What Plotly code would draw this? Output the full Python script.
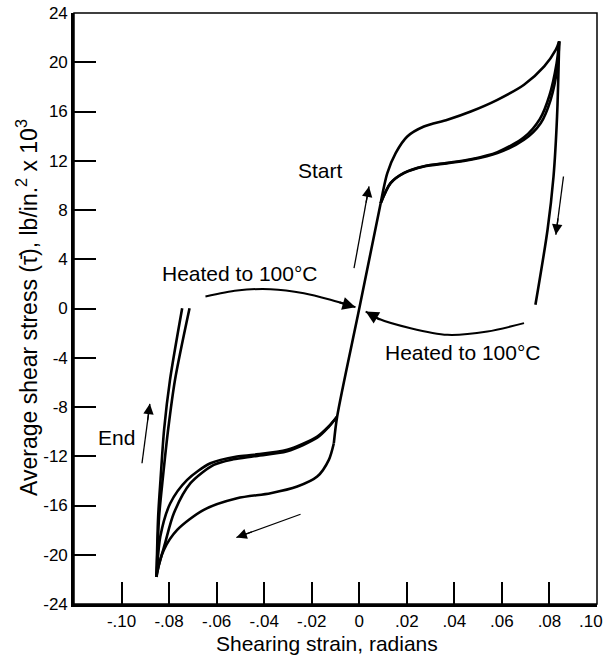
import math
import plotly.graph_objects as go

# Shear stress (ksi) versus shearing strain (rad) for a cycled specimen,
# heated to 100 °C after each unloading.

# Elastic line through the origin
center_strain = [-0.0107, -0.0093, 0.0, 0.0090]
center_stress = [-10.94, -8.77, 0.0, 8.55]

# First positive loading (upper, outer branch)
upper_outer_strain = [0.0090, 0.0118, 0.0153, 0.0202, 0.0272, 0.0371, 0.0469,
                      0.0581, 0.0693, 0.0778, 0.0827, 0.0841]
upper_outer_stress = [8.55, 10.99, 12.62, 13.97, 14.78, 15.33, 16.00,
                      16.95, 18.17, 19.66, 21.02, 21.69]

# Later positive loadings (upper, inner branches)
upper_inner1_strain = [0.0090, 0.0132, 0.0188, 0.0272, 0.0371, 0.0469,
                       0.0581, 0.0693, 0.0763, 0.0805, 0.0834, 0.0841]
upper_inner1_stress = [8.55, 10.18, 10.99, 11.54, 11.80, 12.08,
                       12.62, 13.70, 15.05, 16.95, 19.66, 21.69]
upper_inner2_strain = [0.0090, 0.0132, 0.0188, 0.0272, 0.0371, 0.0469,
                       0.0581, 0.0693, 0.0760, 0.0800, 0.0830, 0.0841]
upper_inner2_stress = [8.55, 10.20, 11.02, 11.56, 11.83, 12.12,
                       12.70, 13.90, 15.40, 17.30, 19.90, 21.69]

# Unloading from the positive peak
right_unload_strain = [0.0841, 0.0832, 0.0817, 0.0792, 0.0741]
right_unload_stress = [21.69, 15.6, 10.7, 6.4, 0.3]

# First negative loading (lower, outer branch)
lower_outer_strain = [-0.0107, -0.0128, -0.0177, -0.0261, -0.0373, -0.0514,
                      -0.0654, -0.0766, -0.0822, -0.0851, -0.0853]
lower_outer_stress = [-10.94, -12.29, -13.65, -14.46, -15.00, -15.41,
                      -16.35, -17.98, -19.60, -21.50, -21.80]

# Later negative loadings (lower, inner branches)
lower_inner1_strain = [-0.0093, -0.0130, -0.0177, -0.0303, -0.0443, -0.0514,
                       -0.0626, -0.0724, -0.0795, -0.0837, -0.0851, -0.0853]
lower_inner1_stress = [-8.77, -9.60, -10.40, -11.48, -11.88, -12.02,
                       -12.57, -13.92, -15.82, -18.52, -21.23, -21.80]
lower_inner2_strain = [-0.0093, -0.0130, -0.0177, -0.0303, -0.0443, -0.0530,
                       -0.0612, -0.0710, -0.0780, -0.0817, -0.0845, -0.0853]
lower_inner2_stress = [-8.77, -9.65, -10.50, -11.60, -12.00, -12.25,
                       -12.70, -14.19, -16.63, -19.07, -21.00, -21.80]

# Unloading from the negative peak
left_unload1_strain = [-0.0853, -0.0846, -0.0836, -0.0821, -0.0796, -0.0745]
left_unload1_stress = [-21.80, -16.9, -13.9, -9.83, -5.78, 0.02]
left_unload2_strain = [-0.0853, -0.0842, -0.0827, -0.0804, -0.0775, -0.0714]
left_unload2_stress = [-21.80, -16.9, -13.9, -9.83, -5.78, 0.02]

# Recovery paths on heating (drawn as curved arrows)
heat_left_strain = [-0.0647, -0.0514, -0.0373, -0.0233, -0.0121, -0.0016]
heat_left_stress = [0.97, 1.46, 1.57, 1.24, 0.71, 0.11]
heat_right_strain = [0.0693, 0.0539, 0.0371, 0.0216, 0.0076, 0.0027]
heat_right_stress = [-1.19, -1.87, -2.14, -1.60, -0.79, -0.24]

# Straight direction arrows, tail then head
start_arrow_strain = [-0.0022, 0.0041]
start_arrow_stress = [3.27, 9.91]
unload_arrow_strain = [0.0859, 0.0827]
unload_arrow_stress = [10.72, 5.99]
end_arrow_strain = [-0.0914, -0.0881]
end_arrow_stress = [-12.57, -7.74]
reverse_arrow_strain = [-0.0247, -0.0517]
reverse_arrow_stress = [-16.71, -18.60]

x_tickvals = [-0.10, -0.08, -0.06, -0.04, -0.02, 0, 0.02, 0.04, 0.06, 0.08, 0.10]
x_ticktext = ["-.10", "-.08", "-.06", "-.04", "-.02", "0", ".02", ".04", ".06", ".08", ".10"]
y_tickvals = [-24, -20, -16, -12, -8, -4, 0, 4, 8, 12, 16, 20, 24]
y_ticktext = [str(v) for v in y_tickvals]

FONT = "Liberation Sans"
X_RANGE = [-0.12, 0.10]
Y_RANGE = [-24, 24]
PLOT_W, PLOT_H = 523, 591
MARGIN = dict(l=74, r=8, t=13, b=52)

fig = go.Figure()

curves = [
    (center_strain, center_stress),
    (upper_outer_strain, upper_outer_stress),
    (upper_inner1_strain, upper_inner1_stress),
    (upper_inner2_strain, upper_inner2_stress),
    (right_unload_strain, right_unload_stress),
    (lower_outer_strain, lower_outer_stress),
    (lower_inner1_strain, lower_inner1_stress),
    (lower_inner2_strain, lower_inner2_stress),
    (left_unload1_strain, left_unload1_stress),
    (left_unload2_strain, left_unload2_stress),
]
for xs, ys in curves:
    fig.add_trace(go.Scatter(
        x=xs, y=ys, mode="lines",
        line=dict(color="black", width=2.6, shape="spline", smoothing=0.8),
        showlegend=False, hoverinfo="skip"))

sx = PLOT_W / (X_RANGE[1] - X_RANGE[0])
sy = PLOT_H / (Y_RANGE[1] - Y_RANGE[0])


def add_arrow(xs, ys, width, headsize):
    """Shaft as a line trace, head as an annotation aligned with the last segment."""
    fig.add_trace(go.Scatter(
        x=xs, y=ys, mode="lines",
        line=dict(color="black", width=width, shape="spline", smoothing=0.8),
        showlegend=False, hoverinfo="skip"))
    hx, hy = xs[-1], ys[-1]
    dx = (xs[-2] - hx) * sx
    dy = -(ys[-2] - hy) * sy
    n = math.hypot(dx, dy)
    fig.add_annotation(x=hx, y=hy, ax=18 * dx / n, ay=18 * dy / n,
                       xref="x", yref="y",
                       text="", showarrow=True, arrowhead=2, arrowsize=headsize,
                       arrowwidth=width, arrowcolor="black", standoff=0)


add_arrow(heat_left_strain, heat_left_stress, 2.0, 1.3)
add_arrow(heat_right_strain, heat_right_stress, 2.0, 1.3)
add_arrow(start_arrow_strain, start_arrow_stress, 1.3, 1.6)
add_arrow(unload_arrow_strain, unload_arrow_stress, 1.3, 1.6)
add_arrow(end_arrow_strain, end_arrow_stress, 1.3, 1.6)
add_arrow(reverse_arrow_strain, reverse_arrow_stress, 1.3, 1.6)

labels = [
    ("Start", -0.0164, 11.17),
    ("Heated to 100°C", -0.0503, 2.84),
    ("Heated to 100°C", 0.0438, -3.57),
    ("End", -0.1023, -10.44),
]
for txt, lx, ly in labels:
    fig.add_annotation(x=lx, y=ly, xref="x", yref="y", text=txt, showarrow=False,
                       xanchor="center", yanchor="middle",
                       font=dict(family=FONT, size=21, color="black"))

# Axis titles
fig.add_annotation(x=-(74 - 27) / PLOT_W, y=(604 - 308) / PLOT_H, xref="paper", yref="paper",
                   xanchor="center", yanchor="middle",
                   text="Average shear stress (τ\u0304), lb/in.<sup>2</sup> x 10<sup>3</sup>",
                   textangle=-90, showarrow=False,
                   font=dict(family=FONT, size=23, color="black"))
fig.add_annotation(x=(326.5 - 74) / PLOT_W, y=-(643 - 604) / PLOT_H, xref="paper", yref="paper",
                   xanchor="center", yanchor="middle",
                   text="Shearing strain, radians", showarrow=False,
                   font=dict(family=FONT, size=21, color="black"))

# Last strain label sits against the right edge of the page
fig.add_annotation(x=1 + 8 / PLOT_W, y=0, xref="paper", yref="paper",
                   xanchor="right", yanchor="top", yshift=-6,
                   text=x_ticktext[-1], showarrow=False,
                   font=dict(family=FONT, size=17, color="black"))
axis_ticktext = x_ticktext[:-1] + [""]

# Thin frame on top and right
fig.add_shape(type="rect", xref="paper", yref="paper", x0=0, y0=0, x1=1, y1=1,
              line=dict(color="black", width=1.5), layer="above")

fig.update_xaxes(range=X_RANGE, tickvals=x_tickvals, ticktext=axis_ticktext,
                 ticks="inside", ticklen=22, tickwidth=1.6, tickcolor="black",
                 showline=True, linecolor="black", linewidth=2.6, mirror=False,
                 showgrid=False, zeroline=False,
                 tickfont=dict(family=FONT, size=17, color="black"))
fig.update_yaxes(range=Y_RANGE, tickvals=y_tickvals, ticktext=y_ticktext,
                 ticks="inside", ticklen=22, tickwidth=1.6, tickcolor="black",
                 showline=True, linecolor="black", linewidth=2.6, mirror=False,
                 showgrid=False, zeroline=False, ticklabeloverflow="allow",
                 tickfont=dict(family=FONT, size=17, color="black"))

fig.update_layout(width=605, height=656,
                  margin=dict(**MARGIN, autoexpand=False),
                  plot_bgcolor="white", paper_bgcolor="white")

fig.write_html("out.html")
